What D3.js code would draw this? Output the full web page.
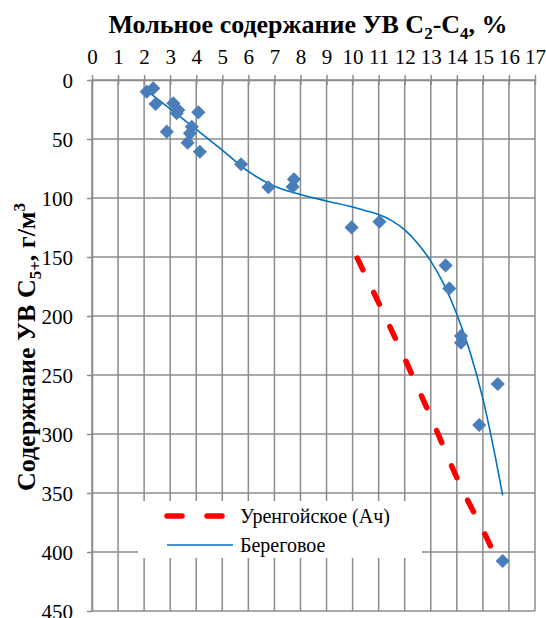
<!DOCTYPE html>
<html>
<head>
<meta charset="utf-8">
<script src="https://cdn.jsdelivr.net/npm/d3@7"></script>
<style>
  body { margin: 0; background: #fff; }
  .grid line { stroke: #8c8c8c; stroke-width: 1.5; }
  .axis path, .axis line { stroke: #8c8c8c; stroke-width: 1.5; }
</style>
</head>
<body>
<div id="chart"></div>
<script>
// scatter points: [mol % C2-C4, C5+ g/m3]
const pointsX = [2.10, 2.35, 2.44, 3.12, 3.31, 3.25, 4.08, 2.87, 3.83, 3.76, 3.67, 4.14, 5.72, 6.77, 7.75, 7.70,
                 9.96, 11.03, 13.57, 13.71, 14.16, 14.16, 15.57, 14.86, 15.76];
const pointsY = [9.9, 7.0, 20.3, 19.7, 25.4, 28.2, 27.4, 43.8, 39.6, 45.2, 53.1, 60.8, 71.4, 90.9, 84.2, 90.4,
                 124.9, 120.1, 157.1, 176.6, 216.9, 222.6, 257.6, 292.4, 407.6];

// Береговое trend
const beregX = [2.1, 3, 4, 5, 6, 7, 8, 9, 10, 10.5, 11, 11.5, 12, 12.5, 13, 13.5, 14, 14.5, 15, 15.5, 15.76];
const beregY = [9.1, 24.4, 41.8, 59.5, 77.5, 90, 97, 102.5, 107.7, 110.8, 114.0, 119.2, 127, 138.5, 153.5, 173, 198.5, 230, 270, 322, 352];

// Уренгойское (Ач) trend
const urengX = [10.18, 12.08, 12.97, 14.06, 15.21, 15.46];
const urengY = [151, 240, 284, 340, 391, 403];

const xTicks = d3.range(0, 18);
const yTicks = d3.range(0, 451, 50);
const legendLabels = ["Уренгойское (Ач)", "Береговое"];

const serif = "'Liberation Serif', 'Times New Roman', serif";
const width = 546, height = 618;
const margin = {top: 80, left: 92, right: 11, bottom: 7};

const svg = d3.select("#chart").append("svg")
    .attr("width", width)
    .attr("height", height);

const x = d3.scaleLinear().domain([0, 17]).range([margin.left, width - margin.right]);
const y = d3.scaleLinear().domain([0, 450]).range([margin.top, height - margin.bottom]);

// grid
const grid = svg.append("g").attr("class", "grid");
grid.selectAll(".v").data(xTicks).enter().append("line")
    .attr("x1", d => x(d)).attr("x2", d => x(d))
    .attr("y1", y(0)).attr("y2", y(450));
grid.selectAll(".h").data(yTicks).enter().append("line")
    .attr("x1", x(0)).attr("x2", x(17))
    .attr("y1", d => y(d)).attr("y2", d => y(d));

// top axis (crossing ticks)
const xAxis = svg.append("g")
    .attr("class", "axis")
    .attr("transform", "translate(0," + y(0) + ")")
    .call(d3.axisTop(x).tickValues(xTicks).tickSize(5).tickPadding(11).tickSizeOuter(0));
xAxis.selectAll(".tick line").attr("y2", 5).attr("y1", -5);

const yAxis = svg.append("g")
    .attr("class", "axis")
    .attr("transform", "translate(" + x(0) + ",0)")
    .call(d3.axisLeft(y).tickValues(yTicks).tickSize(5).tickPadding(14).tickSizeOuter(0));
yAxis.selectAll(".tick text").attr("dy", "0.38em");
svg.selectAll(".axis text")
    .style("font-family", serif)
    .style("font-size", "21px")
    .attr("fill", "#000");

// lines
const line = d3.line()
    .x(d => x(d[0]))
    .y(d => y(d[1]))
    .curve(d3.curveMonotoneX);

svg.append("path")
    .datum(d3.zip(urengX, urengY))
    .attr("fill", "none")
    .attr("stroke", "#ff0000")
    .attr("stroke-width", 5.5)
    .attr("stroke-linecap", "round")
    .attr("stroke-dasharray", "13,25")
    .attr("d", line);

svg.append("path")
    .datum(d3.zip(beregX, beregY))
    .attr("fill", "none")
    .attr("stroke", "#0070c0")
    .attr("stroke-width", 1.6)
    .attr("d", line);

// points
svg.append("g").selectAll("path")
    .data(d3.zip(pointsX, pointsY))
    .enter().append("path")
    .attr("d", d3.symbol(d3.symbolSquare, 100))
    .attr("transform", d => "translate(" + x(d[0]) + "," + y(d[1]) + ") rotate(45)")
    .attr("fill", "#4a7ebb");

// legend
const legend = svg.append("g").attr("transform", "translate(138,501)");
legend.append("rect").attr("width", 284).attr("height", 57).attr("fill", "#fff");
legend.append("line")
    .attr("x1", 29).attr("x2", 88).attr("y1", 15).attr("y2", 15)
    .attr("stroke", "#ff0000").attr("stroke-width", 5.5)
    .attr("stroke-linecap", "round").attr("stroke-dasharray", "15,25");
legend.append("line")
    .attr("x1", 29).attr("x2", 95).attr("y1", 44).attr("y2", 44)
    .attr("stroke", "#0070c0").attr("stroke-width", 1.6);
legend.selectAll("text").data(legendLabels).enter().append("text")
    .attr("x", 102).attr("y", (d, i) => 22 + i * 29)
    .style("font-family", serif)
    .style("font-size", "20px")
    .text(d => d);

// titles
const title = svg.append("text")
    .attr("x", 308).attr("y", 33)
    .attr("text-anchor", "middle")
    .style("font-family", serif)
    .style("font-size", "26px").style("font-weight", "bold");
title.append("tspan").text("Мольное содержание УВ C");
title.append("tspan").style("font-size", "17px").attr("dy", 6).text("2");
title.append("tspan").attr("dy", -6).text("-C");
title.append("tspan").style("font-size", "17px").attr("dy", 6).text("4");
title.append("tspan").attr("dy", -6).text(", %");

const yTitle = svg.append("text")
    .attr("transform", "translate(35,347) rotate(-90)")
    .attr("text-anchor", "middle")
    .style("font-family", serif)
    .style("font-size", "26px").style("font-weight", "bold");
yTitle.append("tspan").text("Содержнаие  УВ C");
yTitle.append("tspan").style("font-size", "17px").attr("dy", 6).text("5+");
yTitle.append("tspan").attr("dy", -6).text(", г/м");
yTitle.append("tspan").style("font-size", "17px").attr("dy", -10).text("3");
</script>
</body>
</html>
